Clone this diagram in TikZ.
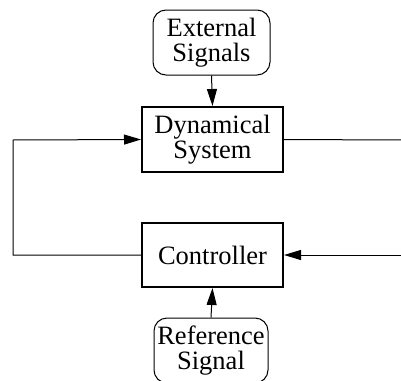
\documentclass[tikz,border=0pt]{standalone}
\usepackage{fontspec}
\setmainfont{Liberation Serif}
\usetikzlibrary{arrows.meta}
\begin{document}
\begin{tikzpicture}[x=1pt,y=-1pt,
  lbl/.style={align=center,font=\fontsize{26.5}{24.5}\selectfont,inner sep=0pt},
  block/.style={lbl,draw,line width=2pt},
  signal/.style={lbl,draw,line width=1pt,rounded corners=13pt},
  wire/.style={line width=1pt},
  arr/.style={wire,-{Triangle[length=17pt,width=10pt]}}]
  \useasboundingbox (0,0) rectangle (401,380);
  \clip (0,0) rectangle (401,380);
  % input and output blocks
  \node[signal,minimum width=117pt,minimum height=65pt] (ext) at (211.5,42.5) {External\\Signals};
  \node[block,minimum width=141pt,minimum height=65pt] (dyn) at (212.5,139.5) {Dynamical\\System};
  \node[block,minimum width=141pt,minimum height=64pt] (ctrl) at (212.5,255) {Controller};
  \node[signal,minimum width=114pt,minimum height=65pt] (ref) at (211,350.5) {Reference\\Signal};
  % loose ends of the loop on the right
  \coordinate (outR) at (402,140);
  \coordinate (inR) at (402,255);
  % connectors
  \draw[arr] (ext.south) -- (dyn.north);
  \draw[arr] (ref.north) -- (ctrl.south);
  \draw[arr] (ctrl.west) -- (13,255) -- (13,140) -- (dyn.west);
  \draw[wire] (dyn.east) -- (outR);
  \draw[arr] (inR) -- (ctrl.east);
\end{tikzpicture}
\end{document}
